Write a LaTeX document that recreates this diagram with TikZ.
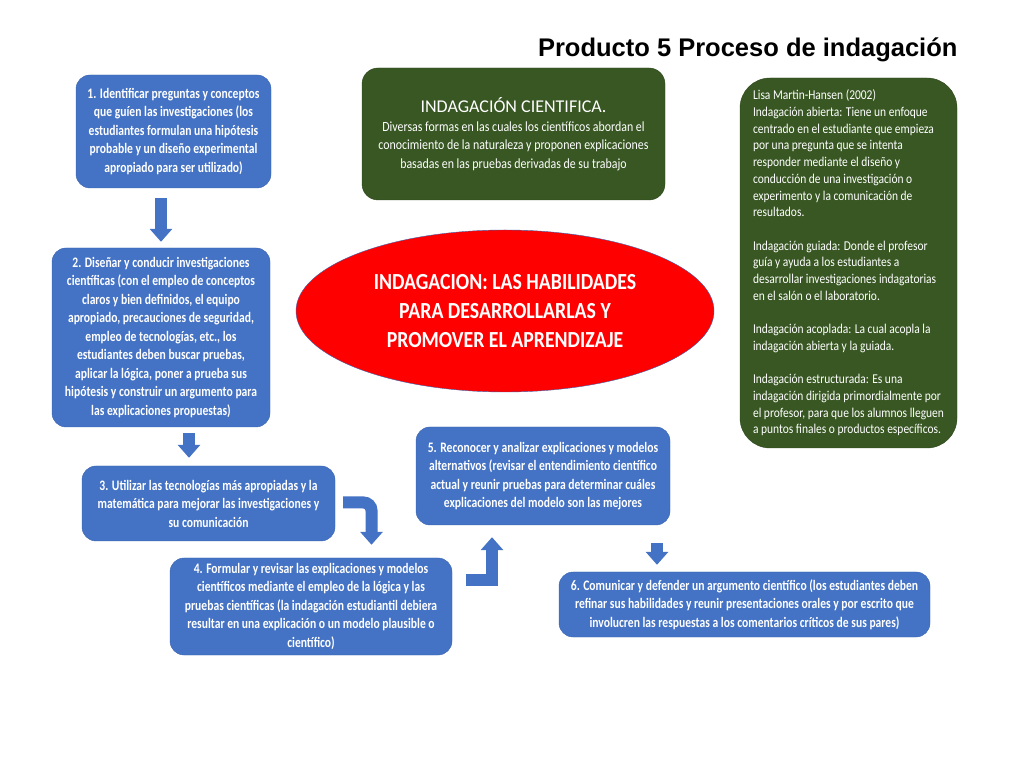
\documentclass[tikz,border=0pt]{standalone}
\usepackage{fontspec}
\setmainfont{Carlito}
\newfontfamily\boxfont[FakeStretch=0.8]{Carlito}
\newfontfamily\infofont[FakeStretch=0.85]{Carlito}
\newfontfamily\ideafont[FakeStretch=0.86]{Carlito}
\newfontfamily\titlefont{Liberation Sans}
\usetikzlibrary{shapes,arrows.meta,positioning,calc}
\definecolor{stepblue}{HTML}{4472C4}
\definecolor{stepedge}{HTML}{3A64B0}
\definecolor{infogreen}{HTML}{385723}
\definecolor{ideared}{HTML}{FF0000}
\tikzset{
stepbox/.style  = {draw=stepedge, fill=stepblue, rounded corners=14pt, inner sep=0pt, align=center, text=white, font=\boxfont\bfseries\fontsize{14.5}{18.5}\selectfont},
infobox/.style  = {draw=infogreen!80!black, fill=infogreen, inner sep=0pt, text=white, font=\infofont\fontsize{14}{18.5}\selectfont},
mainidea/.style = {draw=stepedge, fill=ideared, ellipse, inner sep=0pt, align=center, text=white, font=\ideafont\bfseries\fontsize{23}{29}\selectfont},
bigarrow/.style = {draw=stepblue, line width=12pt, -{Triangle[length=13pt,width=22pt]}}
}
\begin{document}
\begin{tikzpicture}[x=1pt, y=1pt]
  \useasboundingbox (0,0) rectangle (1024,768);
  \node [anchor=base east, font=\titlefont\bfseries\fontsize{25.5}{30}\selectfont] (title) at (961,711) {Producto 5 Proceso de indagación};

  \node [stepbox, minimum width=195pt, minimum height=113pt] (box1) at (173.5,636.5)
    {1. Identificar preguntas y conceptos\\que guíen las investigaciones (los\\estudiantes formulan una hipótesis\\probable y un diseño experimental\\apropiado para ser utilizado)};
  \node [stepbox, minimum width=218pt, minimum height=179pt] (box2) at (161,430.5)
    {2. Diseñar y conducir investigaciones\\científicas (con el empleo de conceptos\\claros y bien definidos, el equipo\\apropiado, precauciones de seguridad,\\empleo de tecnologías, etc., los\\estudiantes deben buscar pruebas,\\aplicar la lógica, poner a prueba sus\\hipótesis y construir un argumento para\\las explicaciones propuestas)};
  \node [stepbox, minimum width=253pt, minimum height=75pt] (box3) at (208.5,264.5)
    {3. Utilizar las tecnologías más apropiadas y la\\matemática para mejorar las investigaciones y\\su comunicación};
  \node [stepbox, minimum width=282pt, minimum height=97pt] (box4) at (311,161.5)
    {4. Formular y revisar las explicaciones y modelos\\científicos mediante el empleo de la lógica y las\\pruebas científicas (la indagación estudiantil debiera\\resultar en una explicación o un modelo plausible o\\científico)};
  \node [stepbox, minimum width=254pt, minimum height=98pt] (box5) at (543,292)
    {5. Reconocer y analizar explicaciones y modelos\\alternativos (revisar el entendimiento científico\\actual y reunir pruebas para determinar cuáles\\explicaciones del modelo son las mejores};
  \node [stepbox, minimum width=371pt, minimum height=65pt] (box6) at (744.5,163.5)
    {6. Comunicar y defender un argumento científico (los estudiantes deben\\refinar sus habilidades y reunir presentaciones orales y por escrito que\\involucren las respuestas a los comentarios críticos de sus pares)};

  \node [infobox, rounded corners=16pt, align=center, minimum width=303pt, minimum height=132pt] (science) at (513.5,634)
    {{\rmfamily\fontsize{18}{25}\selectfont INDAGACIÓN CIENTIFICA.}\\Diversas formas en las cuales los científicos abordan el\\conocimiento de la naturaleza y proponen explicaciones\\basadas en las pruebas derivadas de su trabajo};
  \node [infobox, rounded corners=30pt, align=left, minimum width=217pt, minimum height=370pt,
         font=\infofont\fontsize{13.5}{16.7}\selectfont] (types) at (848.5,505)
    {Lisa Martin-Hansen (2002)\\Indagación abierta: Tiene un enfoque\\centrado en el estudiante que empieza\\por una pregunta que se intenta\\responder mediante el diseño y\\conducción de una investigación o\\experimento y la comunicación de\\resultados.\\[16.7pt]
     Indagación guiada: Donde el profesor\\guía y ayuda a los estudiantes a\\desarrollar investigaciones indagatorias\\en el salón o el laboratorio.\\[16.7pt]
     Indagación acoplada: La cual acopla la\\indagación abierta y la guiada.\\[16.7pt]
     Indagación estructurada: Es una\\indagación dirigida primordialmente por\\el profesor, para que los alumnos lleguen\\a puntos finales o productos específicos.};

  \node [mainidea, minimum width=418pt, minimum height=162pt] (idea) at (505,457)
    {INDAGACION: LAS HABILIDADES\\PARA DESARROLLARLAS Y\\PROMOVER EL APRENDIZAJE};

  \draw [bigarrow] ($(box1.south -| box2.north)+(0,-10)$) -- ([yshift=6pt]box2.north);
  \draw [bigarrow] ([xshift=28pt,yshift=-6pt]box2.south) -- ([xshift=-19.5pt,yshift=8pt]box3.north);
  \draw [bigarrow, rounded corners=8pt] ([xshift=8pt,yshift=1pt]box3.east) -| ([xshift=60.5pt,yshift=13pt]box4.north);
  \draw [bigarrow] ([xshift=14pt,yshift=26.5pt]box4.east) -| ([xshift=-51pt,yshift=-12pt]box5.south);
  \draw [bigarrow] ([xshift=114pt,yshift=-18pt]box5.south) -- ([xshift=-87.5pt,yshift=7pt]box6.north);
\end{tikzpicture}
\end{document}
